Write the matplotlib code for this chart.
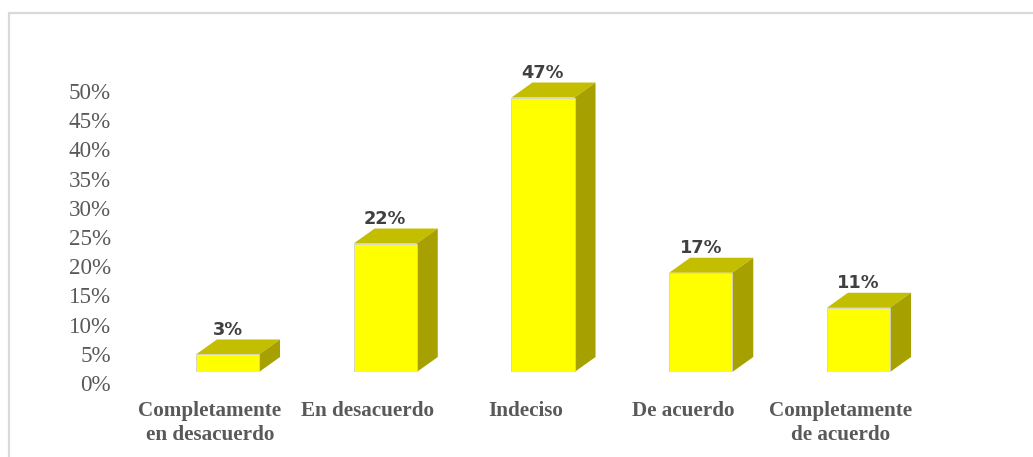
import numpy as np
import matplotlib
matplotlib.use("Agg")
import matplotlib.pyplot as plt
from matplotlib.patches import Polygon, Rectangle
from matplotlib.transforms import ScaledTranslation

# datos
categorias = ["Completamente\nen desacuerdo", "En desacuerdo", "Indeciso",
              "De acuerdo", "Completamente\nde acuerdo"]
valores = [3, 22, 47, 17, 11]
etiquetas = ["3%", "22%", "47%", "17%", "11%"]
ticks_y = [0, 5, 10, 15, 20, 25, 30, 35, 40, 45, 50]

frente = "#FFFF00"
tapa = "#C4BE00"
lado = "#A6A100"

W, H = 1033, 457
fig = plt.figure(figsize=(W / 100, H / 100), dpi=100)
ax = fig.add_axes([148.6 / W, 85 / H, 788.75 / W, 292 / H])
ax.set_xlim(-0.5, 4.5)
ax.set_ylim(0, 50)
ax.patch.set_alpha(0)

# marco gris claro (recortado a derecha y abajo)
fig.add_artist(Rectangle((9 / W, -0.2), 1.5, 1.2 - 13 / H, transform=fig.transFigure,
                         fill=False, edgecolor="#D9D9D9", linewidth=1.6))

ancho = 0.4
x = np.arange(len(valores))
ax.bar(x, valores, width=ancho, color=frente, edgecolor="#D0D0D0", linewidth=0.6, zorder=3)

# profundidad 3D en pixeles -> unidades de datos
px_x = ax.transData.transform((1, 0))[0] - ax.transData.transform((0, 0))[0]
px_y = ax.transData.transform((0, 1))[1] - ax.transData.transform((0, 0))[1]
dx = 21 / px_x
dy = 15 / px_y

for xi, v, lab in zip(x, valores, etiquetas):
    x0, x1 = xi - ancho / 2, xi + ancho / 2
    ax.add_patch(Polygon([(x0, v), (x1, v), (x1 + dx, v + dy), (x0 + dx, v + dy)],
                         closed=True, facecolor=tapa, edgecolor="none", zorder=2, clip_on=False))
    ax.add_patch(Polygon([(x1, 0), (x1, v), (x1 + dx, v + dy), (x1 + dx, dy)],
                         closed=True, facecolor=lado, edgecolor="none", zorder=2, clip_on=False))
    ax.annotate(lab, (xi, v), xytext=(0, 24.5 * 0.72), textcoords="offset points",
                ha="center", va="center", fontsize=12.8, fontweight="bold",
                color="#404040", family="DejaVu Sans", clip_on=False)

for s in ax.spines.values():
    s.set_visible(False)

ax.set_yticks(ticks_y)
ax.set_yticklabels([f"{t}%" for t in ticks_y], family="Liberation Serif",
                   fontsize=16.6, color="#595959")
ax.tick_params(axis="y", length=0, pad=27)
ax.set_xticks(x)
ax.set_xticklabels(categorias, family="Liberation Serif", fontsize=15.2,
                   fontweight="bold", color="#595959", linespacing=1.25)
ax.tick_params(axis="x", length=0, pad=21)

off_y = ScaledTranslation(0, -0.11, fig.dpi_scale_trans)
for lab in ax.get_yticklabels():
    lab.set_transform(lab.get_transform() + off_y)
off_x = ScaledTranslation(-0.175, 0, fig.dpi_scale_trans)
for lab in ax.get_xticklabels():
    lab.set_transform(lab.get_transform() + off_x)
    lab.set_multialignment("center")

fig.savefig("out.png", dpi=100)
